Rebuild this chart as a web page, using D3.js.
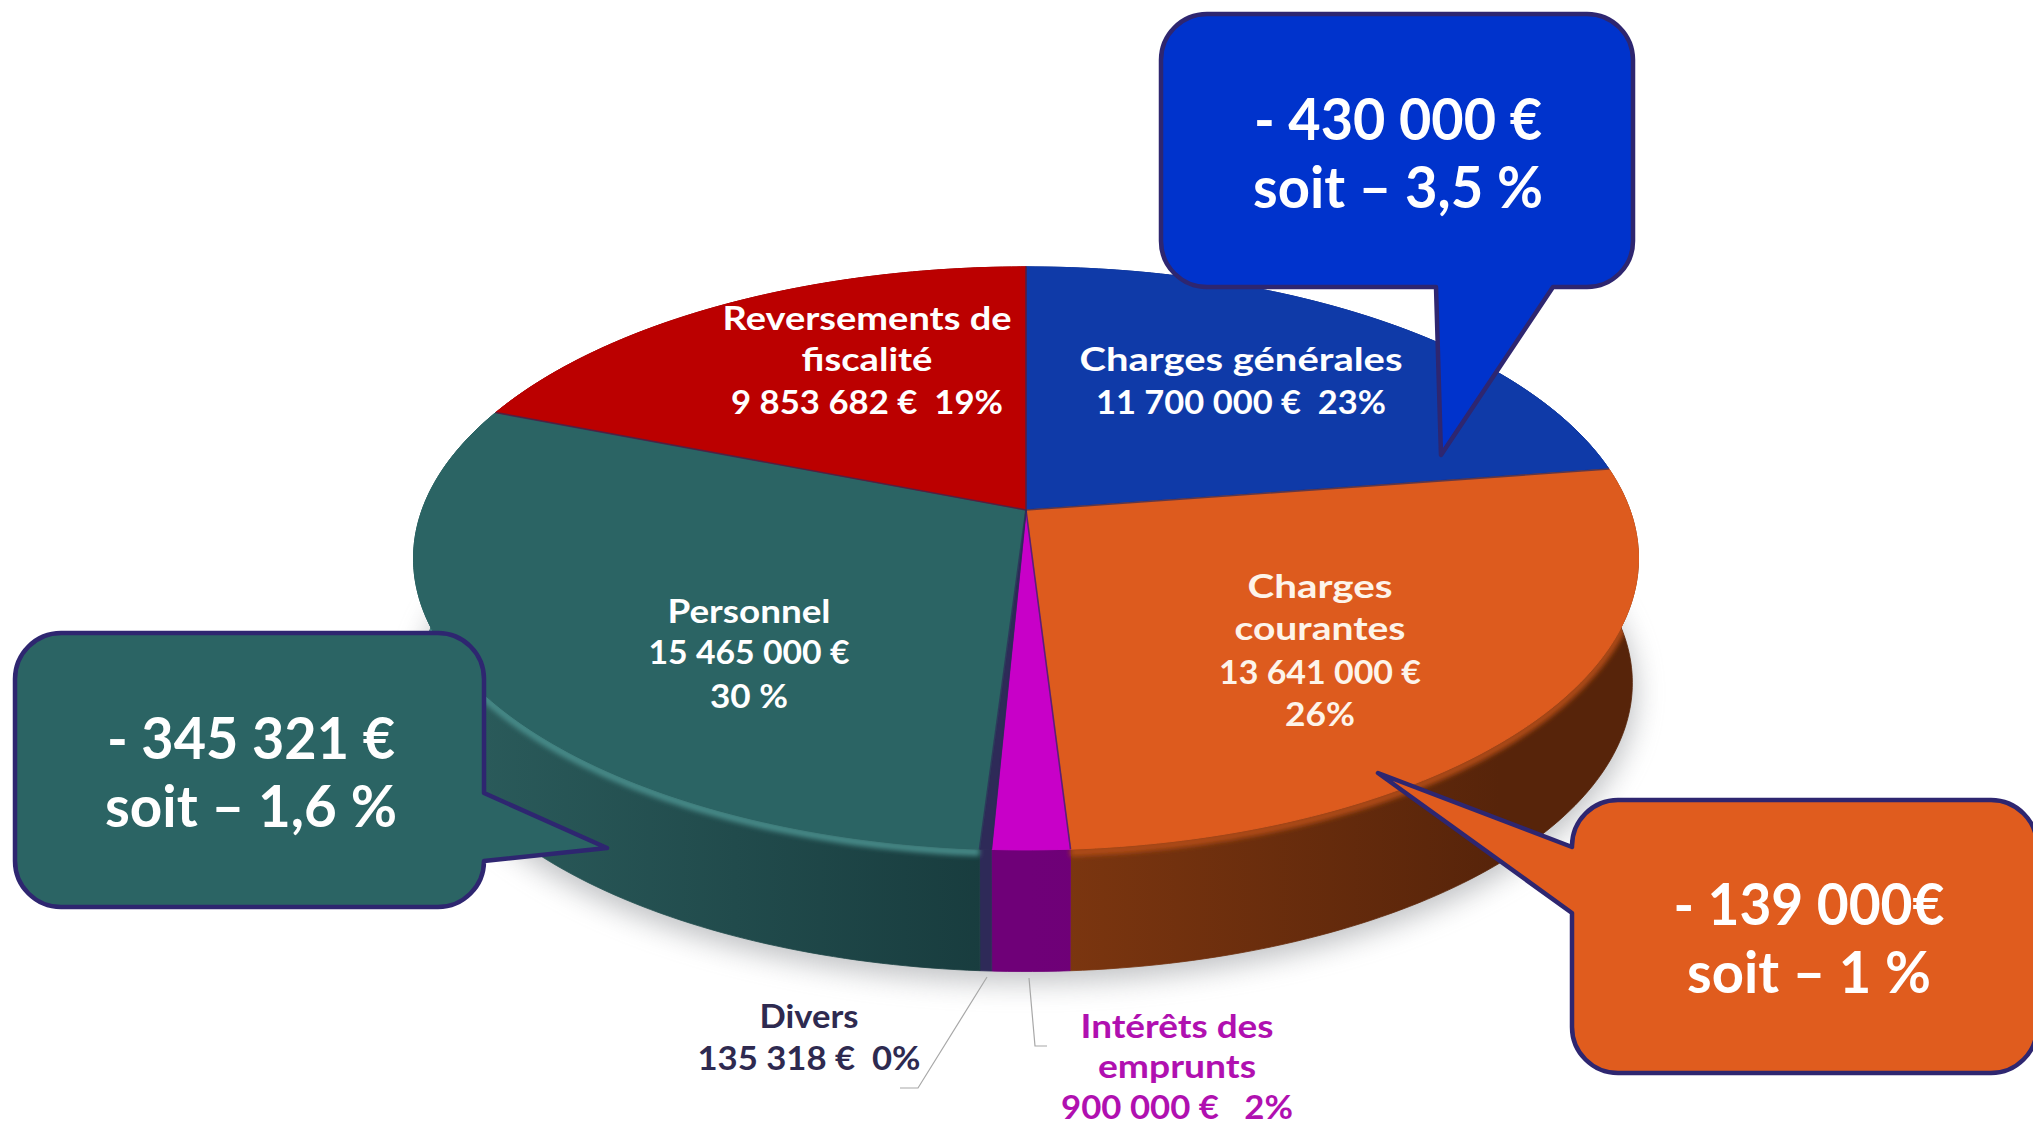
<!DOCTYPE html>
<html lang="fr">
<head>
<meta charset="utf-8">
<title>Dépenses</title>
<script src="https://cdn.jsdelivr.net/npm/d3@7"></script>
<style>
    html, body { margin: 0; background: #fff; }
    svg { display: block; }
    text { font-family: Lato, "Open Sans", sans-serif; font-weight: 700; text-anchor: middle; }
</style>
</head>
<body>
<svg width="2033" height="1125"></svg>
<script>
// values, clockwise from 12 o'clock
const categories = ['Charges générales', 'Charges courantes', 'Intérêts des emprunts', 'Divers', 'Personnel', 'Reversements de fiscalité'];
const amounts = [11700000, 13641000, 900000, 135318, 15465000, 9853682];
const sliceLabels = [
    ['Charges générales', '11 700 000 €  23%'],
    ['Charges', 'courantes', '13 641 000 €', '26%'],
    ['Intérêts des', 'emprunts', '900 000 €   2%'],
    ['Divers', '135 318 €  0%'],
    ['Personnel', '15 465 000 €', '30 %'],
    ['Reversements de', 'fiscalité', '9 853 682 €  19%']
];
const calloutLabels = [
    ['- 430 000 €', 'soit – 3,5 %'],
    ['- 345 321 €', 'soit – 1,6 %'],
    ['- 139 000€', 'soit – 1 %']
];

// styling, same order as categories
const topColors = ['#0f3aa8', '#dd5b1e', '#c800c8', '#2e2a58', '#2b6464', '#bb0000'];
const wallLight = ['#0b2a7a', '#7e3710', '#6f0078', '#2e2a58', '#2a5a5a', '#7a0000'];
const wallDark = ['#0b2a7a', '#57240a', '#6a0070', '#2e2a58', '#183c3e', '#7a0000'];
const rimColors = ['none', '#b04c18', 'none', 'none', '#468a88', 'none'];
const labelX = [1241, 1320, 1177, 809, 749, 867];
const labelY = [[371, 414], [598, 640, 684, 726], [1038, 1078, 1119], [1028, 1070], [623, 664, 708], [330, 371, 414]];
const labelWidth = [[323, 290], [145, 171, 202, 70], [193, 158, 232], [99, 223], [163, 201, 78], [289, 131, 272]];
const labelFill = ['#fff', '#fdf4ea', '#b010b0', '#2e2a50', '#fff', '#fff'];

const svg = d3.select('svg');
const defs = svg.append('defs');

defs.append('filter').attr('id', 'shadowBlur')
    .attr('x', '-10%').attr('y', '-10%').attr('width', '120%').attr('height', '120%')
    .append('feGaussianBlur').attr('stdDeviation', 14);
defs.append('filter').attr('id', 'rimBlur')
    .attr('x', '-10%').attr('y', '-10%').attr('width', '120%').attr('height', '120%')
    .append('feGaussianBlur').attr('stdDeviation', 2.5);

//perspective disc: apex of the pie and homography of the unit circle
const apexX = 1026, apexY = 510;
const spanX = 604, spanY = 283.5, tilt = 0.166;
const wallDrop = 125, wallScale = 0.99;

function project(a, scale, drop) {
    const u = Math.sin(a), v = -Math.cos(a), w = 1 - tilt * v;
    return [apexX + scale * spanX * u / w, apexY + drop + scale * spanY * v / w];
}

const line = d3.line();
const step = Math.PI / 180;
function arcAngles(d) {
    const list = d3.range(d.startAngle, d.endAngle, step);
    list.push(d.endAngle);
    return list;
}
function wallPath(d) {
    const angles = arcAngles(d);
    const upper = angles.map(a => project(a, 1, 0));
    const lower = angles.slice().reverse().map(a => project(a, wallScale, wallDrop));
    return line(upper.concat(lower)) + 'Z';
}

const pie = d3.pie().sort(null).startAngle(0).endAngle(2 * Math.PI);
const slices = pie(amounts);

//soft shadow under the disc
svg.append('path')
    .attr('d', line(d3.range(0, 2 * Math.PI, step).map(a => project(a, wallScale * 1.005, wallDrop + 9))) + 'Z')
    .attr('fill', '#8d9094')
    .attr('opacity', 0.55)
    .attr('filter', 'url(#shadowBlur)');

//side wall gradients
slices.forEach((d, i) => {
    const g = defs.append('linearGradient')
        .attr('id', 'wall' + i)
        .attr('gradientUnits', 'userSpaceOnUse');
    const ends = i < 3 ? [1030, 1500] : [990, 480];
    g.attr('x1', ends[0]).attr('x2', ends[1]).attr('y1', 0).attr('y2', 0);
    g.append('stop').attr('offset', 0).attr('stop-color', i < 3 ? wallLight[i] : wallDark[i]);
    g.append('stop').attr('offset', 1).attr('stop-color', i < 3 ? wallDark[i] : wallLight[i]);
});

//walls
svg.append('g').selectAll('path')
    .data(slices)
    .join('path')
    .attr('d', wallPath)
    .attr('fill', (d, i) => 'url(#wall' + i + ')')
    .attr('stroke', (d, i) => 'url(#wall' + i + ')')
    .attr('stroke-width', 0.8);

//the lit edge must not bleed onto the white page
defs.append('clipPath').attr('id', 'wallClip')
    .selectAll('path')
    .data(slices)
    .join('path')
    .attr('d', wallPath);

//lit edge where the top face meets the wall
svg.append('g')
    .attr('clip-path', 'url(#wallClip)')
    .selectAll('path')
    .data(slices)
    .join('path')
    .attr('d', d => line(arcAngles(d).map(a => project(a, 1, 3))))
    .attr('fill', 'none')
    .attr('stroke', (d, i) => rimColors[i])
    .attr('stroke-width', 8)
    .attr('filter', 'url(#rimBlur)');

//top face
svg.append('g').selectAll('path')
    .data(slices)
    .join('path')
    .attr('d', d => line([[apexX, apexY]].concat(arcAngles(d).map(a => project(a, 1, 0)))) + 'Z')
    .attr('fill', (d, i) => topColors[i])
    .attr('stroke', (d, i) => topColors[i]);

//dark seams between slices, only along the radii
svg.append('g').selectAll('path')
    .data(slices)
    .join('path')
    .attr('d', d => line([[apexX, apexY], project(d.startAngle, 1, 0)]))
    .attr('stroke', '#2e2a58')
    .attr('stroke-opacity', 0.7)
    .attr('stroke-width', 1.6);

//leader lines for the two outside labels
const leaders = [
    [[987, 977], [918, 1088], [900, 1088]],
    [[1029, 978], [1035, 1046], [1047, 1046]]
];
svg.append('g').selectAll('path')
    .data(leaders)
    .join('path')
    .attr('d', line)
    .attr('fill', 'none')
    .attr('stroke', '#a8a8a8')
    .attr('stroke-width', 1.2);

//slice labels, stretched to the width of the original lettering
sliceLabels.forEach((lines, i) => {
    svg.append('g').selectAll('text')
        .data(lines)
        .join('text')
        .attr('x', labelX[i])
        .attr('y', (d, j) => labelY[i][j])
        .attr('font-size', 33)
        .attr('fill', labelFill[i])
        .attr('textLength', (d, j) => labelWidth[i][j])
        .attr('lengthAdjust', 'spacingAndGlyphs')
        .style('white-space', 'pre')
        .text(d => d);
});

//speech bubbles: box, tail side, tail points, text position
const bubbles = [
    { x0: 1161, y0: 14, x1: 1633, y1: 287, r: 46, fill: '#0033cc', side: 'bottom',
      tail: [[1553, 287], [1441, 455], [1436, 287]], tx: 1398, ty: [140, 208], tw: [288, 290] },
    { x0: 15, y0: 633, x1: 484, y1: 907, r: 46, fill: '#2b6464', side: 'right',
      tail: [[484, 793], [607, 848], [484, 861]], tx: 251, ty: [759, 827], tw: [288, 292] },
    { x0: 1572, y0: 800, x1: 2037, y1: 1073, r: 46, fill: '#e05c1e', side: 'left',
      tail: [[1572, 913], [1378, 773], [1572, 847]], tx: 1809, ty: [925, 993], tw: [271, 244] }
];

function bubblePath(b) {
    const p = d3.path();
    const tail = side => {
        if (b.side === side) b.tail.forEach(t => p.lineTo(t[0], t[1]));
    };
    p.moveTo(b.x0 + b.r, b.y0);
    p.lineTo(b.x1 - b.r, b.y0);
    p.arcTo(b.x1, b.y0, b.x1, b.y0 + b.r, b.r);
    tail('right');
    p.lineTo(b.x1, b.y1 - b.r);
    p.arcTo(b.x1, b.y1, b.x1 - b.r, b.y1, b.r);
    tail('bottom');
    p.lineTo(b.x0 + b.r, b.y1);
    p.arcTo(b.x0, b.y1, b.x0, b.y1 - b.r, b.r);
    tail('left');
    p.lineTo(b.x0, b.y0 + b.r);
    p.arcTo(b.x0, b.y0, b.x0 + b.r, b.y0, b.r);
    p.closePath();
    return p.toString();
}

bubbles.forEach((b, i) => {
    const g = svg.append('g');
    g.append('path')
        .attr('d', bubblePath(b))
        .attr('fill', b.fill)
        .attr('stroke', '#2e2670')
        .attr('stroke-width', 4.5)
        .attr('stroke-linejoin', 'round');
    g.selectAll('text')
        .data(calloutLabels[i])
        .join('text')
        .attr('x', b.tx)
        .attr('y', (d, j) => b.ty[j])
        .attr('font-size', 57)
        .attr('font-weight', 900)
        .attr('fill', '#fff')
        .attr('textLength', (d, j) => b.tw[j])
        .attr('lengthAdjust', 'spacingAndGlyphs')
        .text(d => d);
});
</script>
</body>
</html>
